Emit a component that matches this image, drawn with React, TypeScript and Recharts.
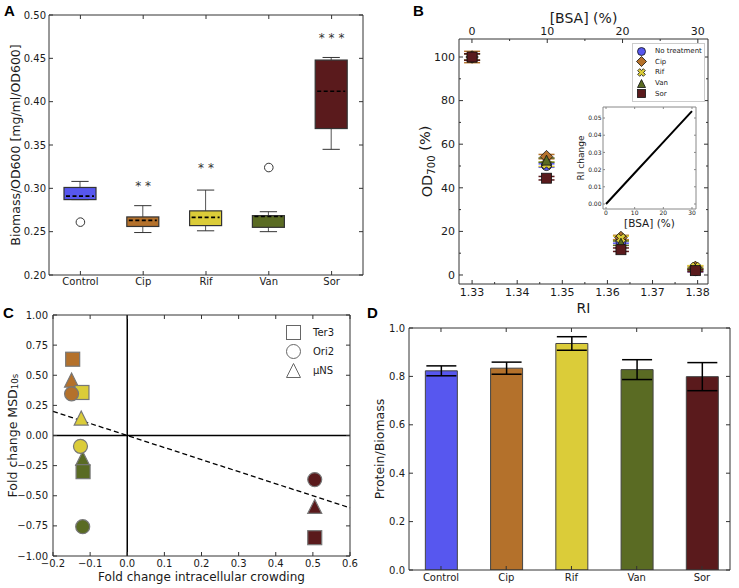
import React from "react";
import {
  Bar,
  Cell,
  ComposedChart,
  ErrorBar,
  Label,
  Legend,
  Line,
  LineChart,
  ReferenceLine,
  Scatter,
  ScatterChart,
  XAxis,
  YAxis,
} from "recharts";

const FONT = "'DejaVu Sans', Verdana, sans-serif";
const INK = "#1a1a1a";
const FRAME = "#333";

const groups = ["Control", "Cip", "Rif", "Van", "Sor"];
const groupColors = ["#5757ef", "#b4712b", "#dbcc39", "#5a6b23", "#5a1a1c"];

// A: biomass / OD600 box plot
const whiskerLow = [0.287, 0.249, 0.251, 0.25, 0.345];
const quartile1 = [0.287, 0.256, 0.257, 0.255, 0.369];
const medians = [0.291, 0.263, 0.2665, 0.2675, 0.412];
const quartile3 = [0.301, 0.267, 0.274, 0.2685, 0.448];
const whiskerHigh = [0.308, 0.28, 0.298, 0.273, 0.451];
const outliers = [0.261, null, null, 0.324, null];
const starMarks = ["", "* *", "* *", "", "* * *"];
const starHeights = [null, 0.306, 0.326, null, 0.476];
const biomassTicks = [0.2, 0.25, 0.3, 0.35, 0.4, 0.45, 0.5];

// B: OD700 against refractive index / BSA
const treatments = ["No treatment", "Cip", "Rif", "Van", "Sor"];
const treatmentMarkers = ["circle", "diamond", "cross", "triangle", "square"];
const riValues = [1.33, 1.3465, 1.363, 1.3795];
const bsaValues = [0, 10, 20, 30];
const odNoTreatment = [100, 50.2, 15.4, 2.0];
const odCip = [100, 54.3, 17.2, 3.5];
const odRif = [100, 50.8, 16.8, 3.7];
const odVan = [100, 52.7, 14.6, 2.6];
const odSor = [100, 44.4, 11.6, 2.0];
const odErrNoTreatment = [1.5, 0.8, 0.8, 0.5];
const odErrCip = [2.6, 1.0, 1.0, 0.6];
const odErrRif = [1.5, 1.0, 1.0, 0.6];
const odErrVan = [1.5, 1.0, 1.0, 0.5];
const odErrSor = [1.5, 0.8, 0.8, 0.5];
const riMajor = [1.33, 1.34, 1.35, 1.36, 1.37, 1.38];
const riTicks = [1.33, 1.335, 1.34, 1.345, 1.35, 1.355, 1.36, 1.365, 1.37, 1.375, 1.38];
const bsaMajor = [0, 10, 20, 30];
const bsaTicks = [0, 5, 10, 15, 20, 25, 30];
const odMajor = [0, 20, 40, 60, 80, 100];
const odTicks = [0, 10, 20, 30, 40, 50, 60, 70, 80, 90, 100];

// B inset: RI change vs BSA
const insetBsa = [0, 10, 20, 30];
const insetRiChange = [0, 0.018, 0.036, 0.054];
const insetRiTicks = [0, 0.01, 0.02, 0.03, 0.04, 0.05];

// C: MSD fold change vs crowding fold change
const crowdGroups = ["Cip", "Rif", "Van", "Sor"];
const crowdColors = ["#b4712b", "#dbcc39", "#5a6b23", "#5a1a1c"];
const ter3X = [-0.147, -0.122, -0.119, 0.505];
const ter3Y = [0.633, 0.357, -0.3, -0.848];
const ori2X = [-0.15, -0.126, -0.12, 0.505];
const ori2Y = [0.346, -0.09, -0.757, -0.366];
const unsX = [-0.15, -0.124, -0.12, 0.505];
const unsY = [0.46, 0.145, -0.19, -0.589];
const particles = ["Ter3", "Ori2", "\u00b5NS"];
const particleMarkers = ["square", "circle", "triangle"];
const fitX = [-0.2, 0.6];
const fitY = [0.2, -0.6];
const crowdTicks = [-0.2, -0.1, 0, 0.1, 0.2, 0.3, 0.4, 0.5, 0.6];
const msdTicks = [-1, -0.75, -0.5, -0.25, 0, 0.25, 0.5, 0.75, 1];

// D: protein / biomass
const barPositions = [0, 1, 2, 3, 4];
const proteinRatio = [0.823, 0.834, 0.936, 0.828, 0.799];
const proteinErr = [0.0205, 0.025, 0.028, 0.041, 0.058];
const proteinTicks = [0, 0.2, 0.4, 0.6, 0.8, 1.0];

const boxData = groups.map((g, i) => ({
  group: g,
  color: groupColors[i],
  low: whiskerLow[i],
  q1: quartile1[i],
  med: medians[i],
  q3: quartile3[i],
  high: whiskerHigh[i],
  box: [quartile1[i], quartile3[i]],
  outlier: outliers[i],
  stars: starMarks[i],
  starAt: starHeights[i],
}));

const odSeries = [odNoTreatment, odCip, odRif, odVan, odSor];
const odErrSeries = [odErrNoTreatment, odErrCip, odErrRif, odErrVan, odErrSor];

const insetData = insetBsa.map((b, i) => ({ bsa: b, ri: insetRiChange[i] }));

const toPoints = (xs: number[], ys: number[]) =>
  xs.map((x, i) => ({ x, y: ys[i], color: crowdColors[i], name: crowdGroups[i] }));

const proteinData = barPositions.map((p, i) => ({
  pos: p,
  group: groups[i],
  ratio: proteinRatio[i],
  err: proteinErr[i],
}));

const minus = (s: string) => s.replace("-", "\u2212");
const hidden = () => <g />;

type Side = "left" | "right" | "top" | "bottom";
type TickOpts = {
  side: Side;
  gap: number;
  size?: number;
  len?: number;
  minorLen?: number;
  majors?: number[];
  fmt?: (v: any) => string;
  hide?: boolean;
  color?: string;
};

// inward tick marks (matplotlib look) plus the label
function makeTick(o: TickOpts) {
  const len = o.len ?? 4;
  const fs = o.size ?? 10;
  const stroke = o.color ?? FRAME;
  return (p: any) => {
    const { x, y, payload } = p;
    const v = payload.value;
    const major = !o.majors || o.majors.some((m) => Math.abs(m - v) < 1e-6);
    const l = major ? len : o.minorLen ?? 2;
    const label = !o.hide && major ? (o.fmt ? o.fmt(v) : String(v)) : "";
    const style = { fontFamily: FONT, fontSize: fs, fill: INK };
    if (o.side === "left") {
      const ax = x + o.gap;
      return (
        <g>
          <line x1={ax} x2={ax + l} y1={y} y2={y} stroke={stroke} />
          {label && (
            <text x={x} y={y} dy="0.35em" textAnchor="end" {...style}>
              {label}
            </text>
          )}
        </g>
      );
    }
    if (o.side === "right") {
      const ax = x - o.gap;
      return (
        <g>
          <line x1={ax} x2={ax - l} y1={y} y2={y} stroke={stroke} />
          {label && (
            <text x={x} y={y} dy="0.35em" textAnchor="start" {...style}>
              {label}
            </text>
          )}
        </g>
      );
    }
    if (o.side === "bottom") {
      const ay = y - o.gap;
      return (
        <g>
          <line x1={x} x2={x} y1={ay} y2={ay - l} stroke={stroke} />
          {label && (
            <text x={x} y={y} dy="0.71em" textAnchor="middle" {...style}>
              {label}
            </text>
          )}
        </g>
      );
    }
    const ay = y + o.gap;
    return (
      <g>
        <line x1={x} x2={x} y1={ay} y2={ay + l} stroke={stroke} />
        {label && (
          <text x={x} y={y} textAnchor="middle" {...style}>
            {label}
          </text>
        )}
      </g>
    );
  };
}

const axisBase = (gap: number) => ({
  tickLine: false,
  tickSize: 0,
  tickMargin: gap,
  interval: 0 as const,
});

function vTitle(dx: number, size: number, children: React.ReactNode) {
  return (p: any) => {
    const vb = p.viewBox || {};
    const cx = (vb.x ?? 0) + dx;
    const cy = (vb.y ?? 0) + (vb.height ?? 0) / 2;
    return (
      <text
        x={cx}
        y={cy}
        transform={`rotate(-90 ${cx} ${cy})`}
        textAnchor="middle"
        dominantBaseline="central"
        fontFamily={FONT}
        fontSize={size}
        fill={INK}
      >
        {children}
      </text>
    );
  };
}

function hTitle(dy: number, size: number, children: React.ReactNode) {
  return (p: any) => {
    const vb = p.viewBox || {};
    const cx = (vb.x ?? 0) + (vb.width ?? 0) / 2;
    const cy = (vb.y ?? 0) + dy;
    return (
      <text
        x={cx}
        y={cy}
        textAnchor="middle"
        dominantBaseline="central"
        fontFamily={FONT}
        fontSize={size}
        fill={INK}
      >
        {children}
      </text>
    );
  };
}

type MarkerProps = {
  kind: string;
  cx: number;
  cy: number;
  s: number;
  fill: string;
  stroke: string;
  sw?: number;
};

function Marker({ kind, cx, cy, s, fill, stroke, sw = 1 }: MarkerProps) {
  const h = s / 2;
  const common = { fill, stroke, strokeWidth: sw };
  if (kind === "circle") return <circle cx={cx} cy={cy} r={h} {...common} />;
  if (kind === "square")
    return <rect x={cx - h} y={cy - h} width={s} height={s} {...common} />;
  if (kind === "diamond") {
    const d = h * 1.25;
    return (
      <polygon
        points={`${cx},${cy - d} ${cx + d},${cy} ${cx},${cy + d} ${cx - d},${cy}`}
        {...common}
      />
    );
  }
  if (kind === "triangle")
    return (
      <polygon
        points={`${cx},${cy - h} ${cx + h},${cy + h} ${cx - h},${cy + h}`}
        {...common}
      />
    );
  // filled "X"
  const t = h * 0.36;
  const arm = [
    [-t, -h], [t, -h], [t, -t], [h, -t], [h, t], [t, t],
    [t, h], [-t, h], [-t, t], [-h, t], [-h, -t], [-t, -t],
  ];
  const c = Math.SQRT1_2;
  const pts = arm
    .map(([a, b]) => `${cx + (a - b) * c},${cy + (a + b) * c}`)
    .join(" ");
  return <polygon points={pts} {...common} />;
}

function BoxShape(p: any) {
  const { x, y, width, height, payload } = p;
  const top = Math.min(y, y + height);
  const hgt = Math.abs(height);
  const k = hgt / (payload.q3 - payload.q1);
  const at = (v: number) => top + (payload.q3 - v) * k;
  const cx = x + width / 2;
  const cap = width * 0.27;
  return (
    <g>
      <line x1={cx} x2={cx} y1={at(payload.high)} y2={top} stroke="#555" />
      <line x1={cx} x2={cx} y1={top + hgt} y2={at(payload.low)} stroke="#555" />
      <line x1={cx - cap} x2={cx + cap} y1={at(payload.high)} y2={at(payload.high)} stroke={FRAME} />
      <line x1={cx - cap} x2={cx + cap} y1={at(payload.low)} y2={at(payload.low)} stroke={FRAME} />
      <rect x={x} y={top} width={width} height={hgt} fill={payload.color} stroke={FRAME} strokeWidth={1.2} />
      <line
        x1={x + 2}
        x2={x + width - 2}
        y1={at(payload.med)}
        y2={at(payload.med)}
        stroke="#000"
        strokeWidth={1.6}
        strokeDasharray="4 2.5"
      />
    </g>
  );
}

function OutlierDot(p: any) {
  if (p.payload?.outlier == null || p.cy == null) return <g key={`o${p.index}`} />;
  return <circle key={`o${p.index}`} cx={p.cx} cy={p.cy} r={4.3} fill="#fff" stroke={FRAME} strokeWidth={1} />;
}

function StarDot(p: any) {
  if (p.payload?.starAt == null || p.cy == null) return <g key={`s${p.index}`} />;
  return (
    <text
      key={`s${p.index}`}
      x={p.cx}
      y={p.cy + 6.5}
      textAnchor="middle"
      fontFamily={FONT}
      fontSize={12}
      style={{ fill: "#333", stroke: "none" }}
    >
      {p.payload.stars}
    </text>
  );
}

function PanelA() {
  return (
    <ComposedChart width={370} height={300} data={boxData} margin={{ top: 14, right: 6, bottom: 0, left: 0 }}>
      <XAxis
        dataKey="group"
        type="category"
        height={25}
        axisLine={{ stroke: FRAME }}
        {...axisBase(3)}
        tick={makeTick({ side: "bottom", gap: 3 })}
      />
      <XAxis
        xAxisId="top"
        dataKey="group"
        type="category"
        orientation="top"
        height={1}
        axisLine={{ stroke: FRAME }}
        {...axisBase(0)}
        tick={makeTick({ side: "top", gap: 0, hide: true })}
      />
      <YAxis
        type="number"
        domain={[0.2, 0.5]}
        allowDataOverflow
        ticks={biomassTicks}
        width={49}
        axisLine={{ stroke: FRAME }}
        {...axisBase(3)}
        tick={makeTick({ side: "left", gap: 3, fmt: (v) => v.toFixed(2) })}
      >
        <Label content={vTitle(15, 12.5, "Biomass/OD600 [mg/ml/OD600]")} />
      </YAxis>
      <YAxis
        yAxisId="right"
        orientation="right"
        type="number"
        domain={[0.2, 0.5]}
        allowDataOverflow
        ticks={biomassTicks}
        width={1}
        axisLine={{ stroke: FRAME }}
        {...axisBase(0)}
        tick={makeTick({ side: "right", gap: 0, hide: true })}
      />
      <Bar dataKey="box" barSize={32} shape={BoxShape} isAnimationActive={false} />
      <Line dataKey="outlier" stroke="none" dot={OutlierDot} activeDot={false} isAnimationActive={false} legendType="none" />
      <Line dataKey="starAt" stroke="none" dot={StarDot} activeDot={false} isAnimationActive={false} legendType="none" />
      <Line xAxisId="top" yAxisId="right" dataKey="med" stroke="none" dot={false} activeDot={false} isAnimationActive={false} legendType="none" />
    </ComposedChart>
  );
}

function LegendB() {
  return (
    <div
      style={{
        border: "1px solid #ccc",
        background: "#fff",
        padding: "2px 3px",
        fontFamily: FONT,
        fontSize: 7,
        color: INK,
        whiteSpace: "nowrap",
        boxSizing: "border-box",
        width: 73,
      }}
    >
      {treatments.map((t, i) => (
        <div key={t} style={{ display: "flex", alignItems: "center", height: 10.6 }}>
          <svg width={11} height={11} style={{ marginRight: 8, flex: "none" }}>
            <Marker kind={treatmentMarkers[i]} cx={5.5} cy={5.5} s={8} fill={groupColors[i]} stroke="#111" sw={0.8} />
          </svg>
          <span>{t}</span>
        </div>
      ))}
    </div>
  );
}

function PanelB() {
  return (
    <ScatterChart width={369} height={318} margin={{ top: 0, right: 30, bottom: 0, left: 0 }}>
      <XAxis
        xAxisId="ri"
        dataKey="ri"
        type="number"
        domain={[1.3271, 1.3823]}
        allowDataOverflow
        ticks={riTicks}
        height={34}
        axisLine={{ stroke: FRAME }}
        {...axisBase(4)}
        tick={makeTick({ side: "bottom", gap: 4, size: 11, majors: riMajor, fmt: (v) => v.toFixed(2) })}
      >
        <Label content={hTitle(24, 14, "RI")} />
      </XAxis>
      <XAxis
        xAxisId="bsa"
        dataKey="bsa"
        type="number"
        orientation="top"
        domain={[-1.72, 31.35]}
        allowDataOverflow
        ticks={bsaTicks}
        height={39}
        axisLine={{ stroke: FRAME }}
        {...axisBase(4)}
        tick={makeTick({ side: "top", gap: 4, size: 11, majors: bsaMajor })}
      >
        <Label content={hTitle(18, 14, "[BSA] (%)")} />
      </XAxis>
      <YAxis
        yAxisId="od"
        dataKey="od"
        type="number"
        domain={[-4.13, 108.26]}
        allowDataOverflow
        ticks={odTicks}
        width={89}
        axisLine={{ stroke: FRAME }}
        {...axisBase(4)}
        tick={makeTick({ side: "left", gap: 4, size: 11, majors: odMajor })}
      >
        <Label
          content={vTitle(
            57,
            14.5,
            <>
              OD<tspan fontSize="0.7em" dy="0.35em">700</tspan>
              <tspan dy="-0.35em"> (%)</tspan>
            </>
          )}
        />
      </YAxis>
      <YAxis
        yAxisId="odR"
        dataKey="od"
        orientation="right"
        type="number"
        domain={[-4.13, 108.26]}
        allowDataOverflow
        ticks={odTicks}
        width={1}
        axisLine={{ stroke: FRAME }}
        {...axisBase(0)}
        tick={makeTick({ side: "right", gap: 0, majors: odMajor, hide: true })}
      />
      <Scatter
        xAxisId="bsa"
        yAxisId="odR"
        data={bsaValues.map((b, i) => ({ bsa: b, od: odSor[i] }))}
        shape={hidden}
        legendType="none"
        isAnimationActive={false}
      />
      {odSeries.map((vals, si) => (
        <Scatter
          key={treatments[si]}
          name={treatments[si]}
          xAxisId="ri"
          yAxisId="od"
          data={riValues.map((ri, i) => ({ ri, od: vals[i], err: odErrSeries[si][i] }))}
          dataKey="od"
          isAnimationActive={false}
          shape={(p: any) => (
            <Marker
              kind={treatmentMarkers[si]}
              cx={p.cx}
              cy={p.cy}
              s={10}
              fill={groupColors[si]}
              stroke="#111"
              sw={0.8}
            />
          )}
        >
          <ErrorBar dataKey="err" direction="y" width={8} stroke={groupColors[si]} strokeWidth={1.5} />
        </Scatter>
      ))}
      <Legend
        layout="vertical"
        align="center"
        verticalAlign="middle"
        content={() => <LegendB />}
        wrapperStyle={{ left: 262, top: 43, width: 73, height: 58 }}
      />
    </ScatterChart>
  );
}

function InsetB() {
  return (
    <LineChart width={130} height={127} data={insetData} margin={{ top: 2, right: 3, bottom: 0, left: 0 }}>
      <XAxis
        dataKey="bsa"
        type="number"
        domain={[-1.05, 31.4]}
        allowDataOverflow
        ticks={insetBsa}
        height={22}
        axisLine={{ stroke: "#888" }}
        {...axisBase(2)}
        tick={makeTick({ side: "bottom", gap: 2, size: 6, len: 2, color: "#888" })}
      >
        <Label content={hTitle(14, 10.5, "[BSA] (%)")} />
      </XAxis>
      <XAxis
        xAxisId="top"
        dataKey="bsa"
        orientation="top"
        type="number"
        domain={[-1.05, 31.4]}
        allowDataOverflow
        ticks={insetBsa}
        height={1}
        axisLine={{ stroke: "#888" }}
        {...axisBase(0)}
        tick={makeTick({ side: "top", gap: 0, len: 2, hide: true, color: "#888" })}
      />
      <YAxis
        type="number"
        domain={[-0.0029, 0.0564]}
        allowDataOverflow
        ticks={insetRiTicks}
        width={33}
        axisLine={{ stroke: "#888" }}
        {...axisBase(1.5)}
        tick={makeTick({ side: "left", gap: 1.5, size: 6, len: 2, color: "#888", fmt: (v) => v.toFixed(2) })}
      >
        <Label content={vTitle(11, 9, "RI change")} />
      </YAxis>
      <YAxis
        yAxisId="r"
        orientation="right"
        type="number"
        domain={[-0.0029, 0.0564]}
        allowDataOverflow
        ticks={insetRiTicks}
        width={1}
        axisLine={{ stroke: "#888" }}
        {...axisBase(0)}
        tick={makeTick({ side: "right", gap: 0, len: 2, hide: true, color: "#888" })}
      />
      <Line dataKey="ri" stroke="#000" strokeWidth={2} dot={false} isAnimationActive={false} />
      <Line xAxisId="top" yAxisId="r" dataKey="ri" stroke="none" dot={false} activeDot={false} isAnimationActive={false} legendType="none" />
    </LineChart>
  );
}

function LegendC() {
  return (
    <div style={{ fontFamily: FONT, fontSize: 10, color: INK, whiteSpace: "nowrap" }}>
      {particles.map((t, i) => (
        <div key={t} style={{ display: "flex", alignItems: "center", height: 19 }}>
          <svg width={17} height={17} style={{ marginRight: 11, flex: "none" }}>
            <Marker kind={particleMarkers[i]} cx={8.5} cy={8.5} s={14} fill="#fff" stroke="#666" sw={1} />
          </svg>
          <span>{t}</span>
        </div>
      ))}
    </div>
  );
}

const crowdShape = (kind: string) => (p: any) =>
  <Marker kind={kind} cx={p.cx} cy={p.cy} s={14} fill={p.payload.color} stroke="#777" sw={1.2} />;

function PanelC() {
  return (
    <ScatterChart width={370} height={288} margin={{ top: 14, right: 19, bottom: 0, left: 0 }}>
      <XAxis
        dataKey="x"
        type="number"
        domain={[-0.2, 0.6]}
        allowDataOverflow
        ticks={crowdTicks}
        height={32}
        axisLine={{ stroke: FRAME }}
        {...axisBase(3.5)}
        tick={makeTick({ side: "bottom", gap: 3.5, fmt: (v) => minus(v.toFixed(1)) })}
      >
        <Label content={hTitle(21, 12, "Fold change intracellular crowding")} />
      </XAxis>
      <XAxis
        xAxisId="top"
        dataKey="x"
        orientation="top"
        type="number"
        domain={[-0.2, 0.6]}
        allowDataOverflow
        ticks={crowdTicks}
        height={1}
        axisLine={{ stroke: FRAME }}
        {...axisBase(0)}
        tick={makeTick({ side: "top", gap: 0, hide: true })}
      />
      <YAxis
        dataKey="y"
        type="number"
        domain={[-1, 1]}
        allowDataOverflow
        ticks={msdTicks}
        width={53}
        axisLine={{ stroke: FRAME }}
        {...axisBase(5)}
        tick={makeTick({ side: "left", gap: 5, fmt: (v) => minus(v.toFixed(2)) })}
      >
        <Label
          content={vTitle(
            12,
            12.5,
            <>
              Fold change MSD<tspan fontSize="0.7em" dy="0.35em">10s</tspan>
            </>
          )}
        />
      </YAxis>
      <YAxis
        yAxisId="right"
        dataKey="y"
        orientation="right"
        type="number"
        domain={[-1, 1]}
        allowDataOverflow
        ticks={msdTicks}
        width={1}
        axisLine={{ stroke: FRAME }}
        {...axisBase(0)}
        tick={makeTick({ side: "right", gap: 0, hide: true })}
      />
      <ReferenceLine x={0} stroke="#000" strokeWidth={1.5} />
      <ReferenceLine y={0} stroke="#000" strokeWidth={1.5} />
      <ReferenceLine
        segment={[
          { x: fitX[0], y: fitY[0] },
          { x: fitX[1], y: fitY[1] },
        ]}
        stroke="#000"
        strokeWidth={1.3}
        strokeDasharray="5 3"
      />
      <Scatter
        xAxisId="top"
        yAxisId="right"
        data={toPoints(ter3X, ter3Y)}
        shape={hidden}
        legendType="none"
        isAnimationActive={false}
      />
      <Scatter name="µNS" data={toPoints(unsX, unsY)} shape={crowdShape("triangle")} isAnimationActive={false} />
      <Scatter name="Ter3" data={toPoints(ter3X, ter3Y)} shape={crowdShape("square")} isAnimationActive={false} />
      <Scatter name="Ori2" data={toPoints(ori2X, ori2Y)} shape={crowdShape("circle")} isAnimationActive={false} />
      <Legend
        layout="vertical"
        align="center"
        verticalAlign="middle"
        content={() => <LegendC />}
        wrapperStyle={{ left: 285, top: 23, width: 70, height: 60 }}
      />
    </ScatterChart>
  );
}

function PanelD() {
  return (
    <ComposedChart width={369} height={288} data={proteinData} margin={{ top: 27, right: 8, bottom: 0, left: 0 }}>
      <XAxis
        dataKey="pos"
        type="number"
        domain={[-0.49, 4.43]}
        allowDataOverflow
        ticks={barPositions}
        height={18}
        axisLine={{ stroke: FRAME }}
        {...axisBase(3.5)}
        tick={makeTick({ side: "bottom", gap: 3.5, fmt: (v) => groups[v] })}
      />
      <XAxis
        xAxisId="top"
        dataKey="pos"
        orientation="top"
        type="number"
        domain={[-0.49, 4.43]}
        allowDataOverflow
        ticks={barPositions}
        height={1}
        axisLine={{ stroke: FRAME }}
        {...axisBase(0)}
        tick={makeTick({ side: "top", gap: 0, hide: true })}
      />
      <YAxis
        type="number"
        domain={[0, 1]}
        allowDataOverflow
        ticks={proteinTicks}
        width={39}
        axisLine={{ stroke: FRAME }}
        {...axisBase(4)}
        tick={makeTick({ side: "left", gap: 4, fmt: (v) => v.toFixed(1) })}
      >
        <Label content={vTitle(9, 12.5, "Protein/Biomass")} />
      </YAxis>
      <YAxis
        yAxisId="right"
        orientation="right"
        type="number"
        domain={[0, 1]}
        allowDataOverflow
        ticks={proteinTicks}
        width={1}
        axisLine={{ stroke: FRAME }}
        {...axisBase(0)}
        tick={makeTick({ side: "right", gap: 0, hide: true })}
      />
      <Bar dataKey="ratio" barSize={32} stroke="#444" strokeWidth={1} isAnimationActive={false}>
        {proteinData.map((d, i) => (
          <Cell key={d.group} fill={groupColors[i]} />
        ))}
        <ErrorBar dataKey="err" width={15} stroke="#000" strokeWidth={1.5} />
      </Bar>
      <Line xAxisId="top" yAxisId="right" dataKey="ratio" stroke="none" dot={false} activeDot={false} isAnimationActive={false} legendType="none" />
    </ComposedChart>
  );
}

const letterStyle: React.CSSProperties = {
  position: "absolute",
  fontFamily: "'Liberation Sans', Arial, sans-serif",
  fontWeight: 700,
  fontSize: 15,
  lineHeight: "15px",
  color: "#000",
};

export default function App() {
  return (
    <div style={{ position: "absolute", left: 0, top: 0, width: 739, height: 588, background: "#fff", overflow: "hidden" }}>
      <div style={{ position: "absolute", left: 0, top: 0 }}>
        <PanelA />
      </div>
      <div style={{ position: "absolute", left: 370, top: 0 }}>
        <PanelB />
      </div>
      <div style={{ position: "absolute", left: 570, top: 104 }}>
        <InsetB />
      </div>
      <div style={{ position: "absolute", left: 0, top: 300 }}>
        <PanelC />
      </div>
      <div style={{ position: "absolute", left: 370, top: 300 }}>
        <PanelD />
      </div>
      <div style={{ ...letterStyle, left: 4, top: 3 }}>A</div>
      <div style={{ ...letterStyle, left: 413, top: 3 }}>B</div>
      <div style={{ ...letterStyle, left: 3, top: 305 }}>C</div>
      <div style={{ ...letterStyle, left: 367, top: 305 }}>D</div>
    </div>
  );
}
